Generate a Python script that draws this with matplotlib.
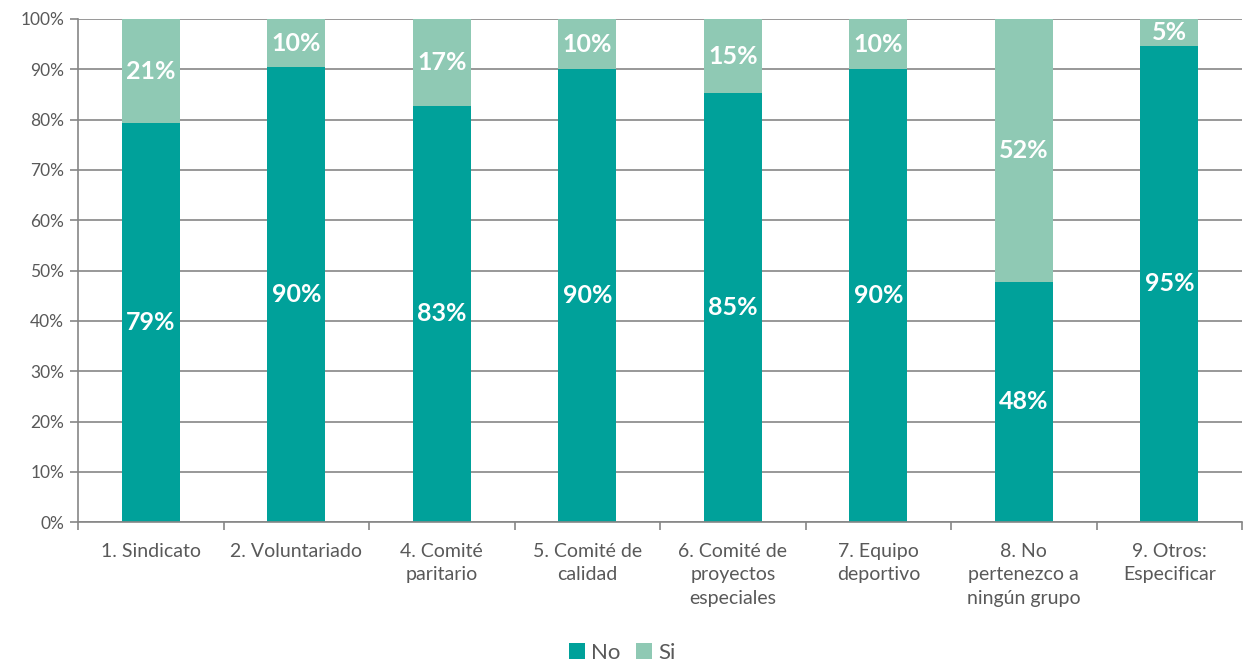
import matplotlib.pyplot as plt
import numpy as np

plt.rcParams['font.family'] = ['Lato', 'DejaVu Sans']

categories = ['1. Sindicato', '2. Voluntariado', '4. Comité\nparitario', '5. Comité de\ncalidad',
              '6. Comité de\nproyectos\nespeciales', '7. Equipo\ndeportivo',
              '8. No\npertenezco a\nningún grupo', '9. Otros:\nEspecificar']
no_vals = [79.3, 90.4, 82.8, 90.0, 85.2, 90.0, 47.8, 94.7]
si_vals = [20.7, 9.6, 17.2, 10.0, 14.8, 10.0, 52.2, 5.3]
no_labels = ['79%', '90%', '83%', '90%', '85%', '90%', '48%', '95%']
si_labels = ['21%', '10%', '17%', '10%', '15%', '10%', '52%', '5%']

c_no = '#00A19A'
c_si = '#8FC9B4'
gray = '#868686'
txt = '#595959'

fig = plt.figure(figsize=(12.45, 6.66), dpi=100)
ax = fig.add_axes([0.0627, 0.216, 0.935, 0.7555])

x = np.arange(len(categories))
w = 0.4
b1 = ax.bar(x, no_vals, w, color=c_no, label='No', zorder=2)
b2 = ax.bar(x, si_vals, w, bottom=no_vals, color=c_si, label='Si', zorder=2)

for i in range(len(x)):
    ax.text(x[i], no_vals[i] / 2, no_labels[i], ha='center', va='center',
            color='white', fontsize=18, fontweight='bold', zorder=3)
    ax.text(x[i], no_vals[i] + si_vals[i] / 2, si_labels[i], ha='center', va='center',
            color='white', fontsize=18, fontweight='bold', zorder=3)

ax.set_ylim(0, 100)
ax.set_xlim(-0.5, len(x) - 0.5)
ax.set_yticks(np.arange(0, 101, 10))
ax.set_yticklabels(['{}%'.format(v) for v in range(0, 101, 10)])
ax.yaxis.grid(True, color=gray, linewidth=1.2, zorder=0)
ax.set_axisbelow(True)

ax.set_xticks(x)
ax.set_xticklabels(categories, linespacing=1.45)
ax.set_xticks(np.arange(-0.5, len(x), 1), minor=True)
ax.tick_params(axis='x', which='major', length=0, pad=15, labelsize=14, labelcolor=txt)
ax.tick_params(axis='x', which='minor', length=6, color=gray, width=1.2)
ax.tick_params(axis='y', length=6, color=gray, width=1.2, labelsize=12.5, labelcolor=txt, pad=4)

for s in ['top', 'right']:
    ax.spines[s].set_visible(False)
for s in ['left', 'bottom']:
    ax.spines[s].set_color(gray)
    ax.spines[s].set_linewidth(1.2)

leg = fig.legend(handles=[b1, b2], labels=['No', 'Si'], loc='center', bbox_to_anchor=(0.5, 0.02),
                 ncol=2, frameon=False, fontsize=16, handlelength=0.7, handleheight=0.7,
                 handletextpad=0.3, columnspacing=0.7)
for t in leg.get_texts():
    t.set_color(txt)

fig.savefig('out.png', dpi=100)
